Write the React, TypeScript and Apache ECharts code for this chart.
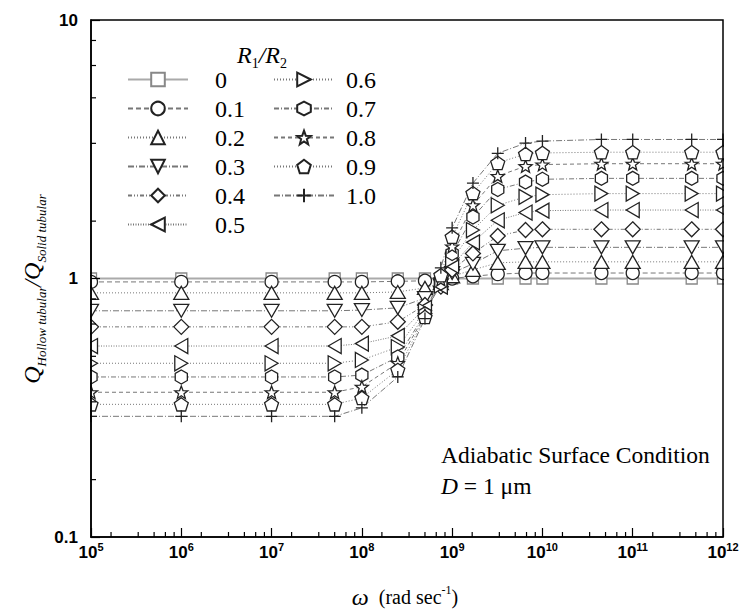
import React, { useEffect, useRef } from 'react';
import * as echarts from 'echarts';

// angular frequency (rad/s) at which each curve is sampled
const omega = [1e5, 1e6, 1e7, 5e7, 1e8, 2.5e8, 5e8, 7.5e8, 1e9, 1.7e9, 3.2e9, 6.5e9, 1e10, 4.5e10, 1e11, 4.5e11, 1e12];

const ratioNames = ['0', '0.1', '0.2', '0.3', '0.4', '0.5', '0.6', '0.7', '0.8', '0.9', '1.0'];

const q00 = [1.0, 1.0, 1.0, 1.0, 1.0, 1.0, 1.0, 1.0, 1.0, 1.0, 1.0, 1.0, 1.0, 1.0, 1.0, 1.0, 1.0];
const q01 = [0.97, 0.97, 0.97, 0.97, 0.97, 0.975, 0.98, 0.99, 1.0, 1.02, 1.04, 1.05, 1.05, 1.05, 1.05, 1.05, 1.05];
const q02 = [0.88, 0.88, 0.88, 0.88, 0.88, 0.887, 0.92, 0.96, 1.02, 1.08, 1.15, 1.16, 1.16, 1.16, 1.16, 1.16, 1.16];
const q03 = [0.75, 0.75, 0.75, 0.75, 0.755, 0.77, 0.84, 0.94, 1.05, 1.14, 1.28, 1.31, 1.32, 1.32, 1.32, 1.32, 1.32];
const q04 = [0.65, 0.65, 0.65, 0.65, 0.65, 0.68, 0.79, 0.93, 1.08, 1.25, 1.46, 1.54, 1.55, 1.55, 1.55, 1.55, 1.55];
const q05 = [0.548, 0.548, 0.548, 0.548, 0.56, 0.6, 0.77, 0.93, 1.12, 1.38, 1.68, 1.8, 1.83, 1.84, 1.84, 1.84, 1.84];
const q06 = [0.47, 0.47, 0.47, 0.47, 0.484, 0.543, 0.75, 0.94, 1.18, 1.54, 1.92, 2.07, 2.11, 2.13, 2.13, 2.13, 2.13];
const q07 = [0.416, 0.416, 0.416, 0.416, 0.423, 0.497, 0.73, 0.96, 1.25, 1.73, 2.21, 2.36, 2.42, 2.44, 2.44, 2.44, 2.44];
const q08 = [0.363, 0.363, 0.363, 0.363, 0.381, 0.471, 0.72, 0.99, 1.33, 1.92, 2.49, 2.72, 2.76, 2.78, 2.78, 2.78, 2.78];
const q09 = [0.326, 0.326, 0.326, 0.326, 0.345, 0.443, 0.71, 1.03, 1.45, 2.14, 2.8, 3.03, 3.06, 3.08, 3.08, 3.08, 3.08];
const q10 = [0.293, 0.293, 0.293, 0.293, 0.316, 0.416, 0.7, 1.1, 1.57, 2.34, 3.05, 3.34, 3.4, 3.45, 3.45, 3.45, 3.45];

const seriesValues = [q00, q01, q02, q03, q04, q05, q06, q07, q08, q09, q10];

// minor tick positions (Origin-style linear minor ticks inside each decade)
const minorMultipliers = [1.667, 3.333, 5, 6.667, 8.333];
const xDecades = [1e5, 1e6, 1e7, 1e8, 1e9, 1e10, 1e11];
const yDecades = [0.1, 1];

const symbols = [
  'rect',
  'circle',
  'path://M5,0 L10,8.66 L0,8.66 Z',
  'path://M0,0 L10,0 L5,8.66 Z',
  'diamond',
  'path://M0,5 L8.66,0 L8.66,10 Z',
  'path://M8.66,5 L0,0 L0,10 Z',
  'path://M5,0 L9.33,2.5 L9.33,7.5 L5,10 L0.67,7.5 L0.67,2.5 Z',
  'path://M5,0 L6.234,3.301 L9.755,3.455 L6.997,5.649 L7.939,9.045 L5,7.1 L2.061,9.045 L3.003,5.649 L0.245,3.455 L3.766,3.301 Z',
  'path://M5,0 L9.755,3.455 L7.939,9.045 L2.061,9.045 L0.245,3.455 Z',
  'path://M5,0 L5,10 M0,5 L10,5',
];
const symbolSizes = [11, 13, 15, 15, 15, 15, 15, 14, 13, 14, 12];
const dashes: any[] = [
  'solid',
  [5, 3],
  [1, 2],
  [6, 2, 1, 2],
  [4, 2, 1, 2, 1, 2],
  [1, 1.5],
  [1, 2],
  [5, 2, 1, 2],
  [4, 3],
  [1, 2],
  [6, 2, 1, 2],
];

const SERIF = 'Liberation Serif';
const SANS = 'Liberation Sans';

export default function App() {
  const ref = useRef<HTMLDivElement>(null);
  useEffect(() => {
    if (!ref.current) return;
    const chart = echarts.init(ref.current, undefined, { renderer: 'svg' });
    const gridLeft = 91, gridRight = 20, gridTop = 20, gridBottom = 73;
    const W = 743, H = 610;

    const lineSeries = ratioNames.map((name, k) => ({
      type: 'line',
      name,
      data: omega.map((w, i) => [w, seriesValues[k][i]]),
      symbol: symbols[k],
      symbolSize: symbolSizes[k],
      symbolKeepAspect: true,
      clip: false,
      color: k === 0 ? '#888' : '#222',
      lineStyle: { color: k === 0 ? '#aaa' : '#777', width: k === 0 ? 2 : 1, type: dashes[k] },
      itemStyle: { color: '#fff', borderColor: k === 0 ? '#888' : '#222', borderWidth: 1.3 },
      emphasis: { disabled: true },
      z: 2,
    }));

    const xMinor: number[][] = [];
    xDecades.forEach((d) => minorMultipliers.forEach((m) => xMinor.push([d * m, 0.1])));
    const yMinor: number[][] = [];
    yDecades.forEach((d) => minorMultipliers.forEach((m) => yMinor.push([1e5, d * m])));

    const tickStyle = { stroke: '#000', lineWidth: 1.2 };

    const option: any = {
      animation: false,
      grid: {
        left: gridLeft, right: gridRight, top: gridTop, bottom: gridBottom,
        show: true, borderColor: '#000', borderWidth: 1.5, z: 10,
      },
      xAxis: {
        type: 'log',
        logBase: 10,
        min: 1e5,
        max: 1e12,
        splitNumber: 7,
        z: 10,
        axisLine: { show: true, lineStyle: { color: '#000', width: 1.5 } },
        axisTick: { show: true, inside: true, length: 9, lineStyle: { color: '#000', width: 1.2 } },
        splitLine: { show: false },
        axisLabel: {
          margin: 4,
          formatter: (v: number) => `{b|10}{s|${Math.round(Math.log10(v))}}`,
          rich: {
            b: { fontFamily: SANS, fontWeight: 'bold', fontSize: 17, lineHeight: 22, color: '#000' },
            s: { fontFamily: SANS, fontWeight: 'bold', fontSize: 11, lineHeight: 11, verticalAlign: 'top', color: '#000' },
          },
        },
      },
      yAxis: {
        type: 'log',
        logBase: 10,
        min: 0.1,
        max: 10,
        splitNumber: 2,
        z: 10,
        axisLine: { show: true, lineStyle: { color: '#000', width: 1.5 } },
        axisTick: { show: true, inside: true, length: 9, lineStyle: { color: '#000', width: 1.2 } },
        splitLine: { show: false },
        axisLabel: {
          margin: 13,
          fontFamily: SANS,
          fontWeight: 'bold',
          fontSize: 17,
          color: '#000',
          formatter: (v: number) => (v >= 1 ? String(Math.round(v)) : v.toFixed(1)),
        },
      },
      legend: [
        {
          data: ratioNames.slice(0, 6),
          orient: 'vertical',
          left: 127,
          top: 67,
          padding: 0,
          itemWidth: 60,
          itemHeight: 17,
          itemGap: 4,
          selectedMode: false,
          textStyle: { fontFamily: SERIF, fontSize: 24, color: '#000', lineHeight: 25, padding: [0, 0, 0, 22] },
        },
        {
          data: ratioNames.slice(6),
          orient: 'vertical',
          left: 273,
          top: 67,
          padding: 0,
          itemWidth: 60,
          itemHeight: 17,
          itemGap: 4,
          selectedMode: false,
          textStyle: { fontFamily: SERIF, fontSize: 24, color: '#000', lineHeight: 25, padding: [0, 0, 0, 7] },
        },
      ],
      graphic: [
        { type: 'rect', z: 5, silent: true, shape: { x: 0, y: 0, width: gridLeft - 1, height: H }, style: { fill: '#fff' } },
        { type: 'rect', z: 5, silent: true, shape: { x: W - gridRight + 1, y: 0, width: gridRight, height: H }, style: { fill: '#fff' } },
        {
          type: 'text', z: 20, x: 32, y: 289, rotation: Math.PI / 2,
          style: {
            text: '{q|Q}{s|Hollow tubular}{q|/Q}{s|Solid tubular}',
            align: 'center', verticalAlign: 'middle',
            rich: {
              q: { fontFamily: SERIF, fontStyle: 'italic', fontSize: 24, lineHeight: 32, fill: '#000' },
              s: { fontFamily: SERIF, fontStyle: 'italic', fontSize: 13, lineHeight: 13, verticalAlign: 'bottom', fill: '#000' },
            },
          },
        },
        {
          type: 'text', z: 20, x: 405, y: 597,
          style: {
            text: '{w|ω}{t|  (rad sec}{p|-1}{t|)}',
            align: 'center', verticalAlign: 'middle',
            rich: {
              w: { fontFamily: SERIF, fontStyle: 'italic', fontSize: 24, lineHeight: 26, fill: '#000' },
              t: { fontFamily: SERIF, fontSize: 20, lineHeight: 26, fill: '#000' },
              p: { fontFamily: SERIF, fontSize: 12, lineHeight: 12, verticalAlign: 'top', fill: '#000' },
            },
          },
        },
        {
          type: 'text', z: 20, x: 237, y: 55,
          style: {
            text: '{r|R}{s|1}{r|/R}{s|2}',
            align: 'left', verticalAlign: 'middle',
            rich: {
              r: { fontFamily: SERIF, fontStyle: 'italic', fontSize: 24, lineHeight: 30, fill: '#000' },
              s: { fontFamily: SERIF, fontSize: 14, lineHeight: 14, verticalAlign: 'bottom', fill: '#000' },
            },
          },
        },
        {
          type: 'text', z: 20, x: 441, y: 455,
          style: { text: 'Adiabatic Surface Condition', fontFamily: SERIF, fontSize: 23.5, fill: '#000', align: 'left', verticalAlign: 'middle' },
        },
        {
          type: 'text', z: 20, x: 441, y: 486,
          style: {
            text: '{i|D}{n| = 1 μm}',
            align: 'left', verticalAlign: 'middle',
            rich: {
              i: { fontFamily: SERIF, fontStyle: 'italic', fontSize: 23.5, fill: '#000' },
              n: { fontFamily: SERIF, fontSize: 23.5, fill: '#000' },
            },
          },
        },
      ],
      series: [
        ...lineSeries,
        {
          type: 'custom',
          name: 'xMinorTicks',
          silent: true,
          z: 10,
          data: xMinor,
          renderItem: (_p: any, api: any) => {
            const pt = api.coord([api.value(0), api.value(1)]);
            return { type: 'line', shape: { x1: pt[0], y1: pt[1], x2: pt[0], y2: pt[1] - 5 }, style: tickStyle };
          },
        },
        {
          type: 'custom',
          name: 'yMinorTicks',
          silent: true,
          z: 10,
          data: yMinor,
          renderItem: (_p: any, api: any) => {
            const pt = api.coord([api.value(0), api.value(1)]);
            return { type: 'line', shape: { x1: pt[0], y1: pt[1], x2: pt[0] + 5, y2: pt[1] }, style: tickStyle };
          },
        },
      ],
    };
    chart.setOption(option);
    return () => chart.dispose();
  }, []);
  return <div ref={ref} style={{ position: 'absolute', left: 0, top: 0, width: 743, height: 610, background: '#fff' }} />;
}
